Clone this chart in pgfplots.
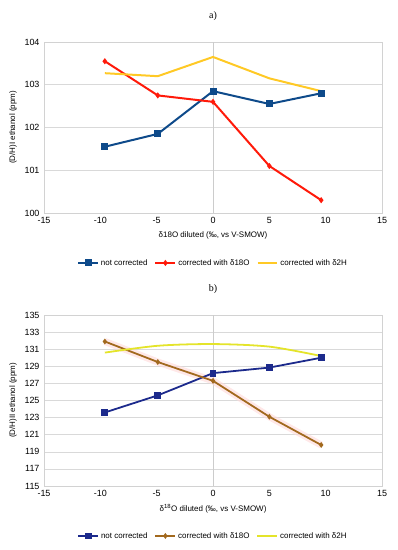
\documentclass[border=0pt]{standalone}
\usepackage{pgfplots}
\pgfplotsset{compat=1.18}
\usepackage{fontspec}
\setmainfont{Liberation Sans}
\newfontfamily\serif{Liberation Serif}
\definecolor{cblue}{HTML}{0E4A8A}
\definecolor{cred}{HTML}{FF1A0A}
\definecolor{cgold}{HTML}{FFC925}
\definecolor{cnavy}{HTML}{1C2A8C}
\definecolor{cbrown}{HTML}{A2691E}
\definecolor{clime}{HTML}{E4E42A}
\pgfplotsset{
  common/.style={
    scale only axis, width=338bp, height=171bp,
    xmin=-15, xmax=15, xtick={-15,-10,...,15},
    axis line style={gray!35},
    major tick length=0pt,
    ymajorgrids, grid style={gray!30, line width=0.5pt},
    extra x ticks={0}, extra x tick labels={},
    extra x tick style={grid=major, grid style={gray!40}},
    tick label style={font=\fontsize{9}{10}\selectfont},
    /pgf/number format/assume math mode=true,
    label style={font=\fontsize{8}{9}\selectfont},
    xticklabel style={yshift=-1bp},
    yticklabel style={xshift=-1bp},
    xlabel style={yshift=-1bp},
    ylabel style={yshift=1bp},
    legend columns=3,
    legend style={draw=none, fill=none, font=\fontsize{8}{9}\selectfont,
      at={(0.5,-0.292)}, anchor=center,
      /tikz/every even column/.append style={column sep=5bp}},
    legend image code/.code={\draw[mark repeat=2,mark phase=2] plot coordinates {(0cm,0cm) (0.35cm,0cm) (0.7cm,0cm)};},
    title style={font=\serif\fontsize{10}{11}\selectfont, yshift=12bp},
  }
}
\begin{document}
\begin{tikzpicture}[x=1bp,y=1bp]
\useasboundingbox (0,0) rectangle (397,550);
\begin{axis}[common, at={(44bp,337bp)}, anchor=south west,
  ymin=100, ymax=104, ytick={100,101,...,104},
  title={a)},
  xlabel={δ18O diluted (‰, vs V-SMOW)},
  ylabel={(D/H)I ethanol (ppm)}]
\addplot[cblue, line width=2pt, mark=square*, mark size=2.5bp] coordinates {
 (-9.6,101.55) (-4.9,101.85) (0,102.85) (5,102.55) (9.6,102.8)};
\addlegendentry{not corrected}
\addplot[cred, line width=2pt, mark=diamond*, mark size=1.5bp] coordinates {
 (-9.6,103.55) (-4.9,102.75) (0,102.6) (5,101.1) (9.6,100.3)};
\addlegendentry{corrected with δ18O}
\addplot[cgold, line width=2pt] coordinates {
 (-9.6,103.27) (-4.9,103.2) (0,103.65) (5,103.15) (9.6,102.85)};
\addlegendentry{corrected with δ2H}
\end{axis}
\begin{axis}[common, at={(44bp,64bp)}, anchor=south west,
  ymin=115, ymax=135, ytick={115,117,...,135},
  title={b)},
  xlabel={δ\textsuperscript{18}O diluted (‰, vs V-SMOW)},
  ylabel={(D/H)II ethanol (ppm)}]
\addplot[pink!60, opacity=0.6, line width=7pt, forget plot] coordinates {
 (-9.6,131.9) (-4.9,129.5) (0,127.3) (5,123.1) (9.6,119.8)};
\addplot[cnavy, line width=1.8pt, mark=square*, mark size=2.5bp] coordinates {
 (-9.6,123.6) (-4.9,125.6) (0,128.2) (5,128.85) (9.6,130.0)};
\addlegendentry{not corrected}
\addplot[cbrown, line width=1.8pt, mark=diamond*, mark size=1.5bp] coordinates {
 (-9.6,131.9) (-4.9,129.5) (0,127.3) (5,123.1) (9.6,119.8)};
\addlegendentry{corrected with δ18O}
\addplot[clime, line width=1.8pt, smooth] coordinates {
 (-9.6,130.6) (-4.9,131.4) (0,131.6) (5,131.3) (9.6,130.2)};
\addlegendentry{corrected with δ2H}
\end{axis}
\end{tikzpicture}
\end{document}
